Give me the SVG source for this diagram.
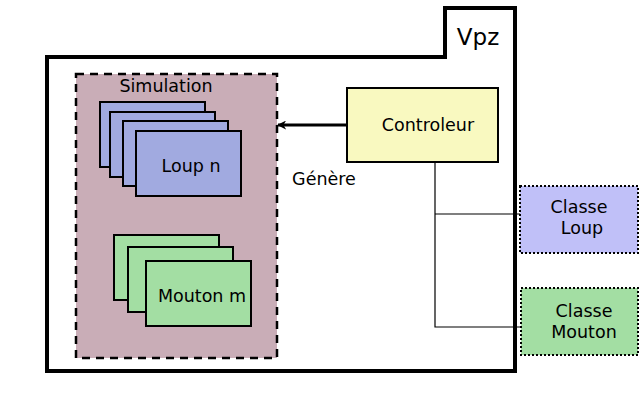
<svg xmlns="http://www.w3.org/2000/svg" width="640" height="400" viewBox="0 0 640 400">
<defs>
<style>
text{font-family:"DejaVu Sans",sans-serif;font-size:17.5px;fill:#000;text-anchor:middle}
.loup{fill:#a1aae0;stroke:#000;stroke-width:2}
.mouton{fill:#a3dea3;stroke:#000;stroke-width:2}
.classe{stroke:#000;stroke-width:2;stroke-dasharray:2,2}
.conn{fill:none;stroke:#000;stroke-width:1.2}
</style>
<marker id="arr" viewBox="0 0 10 10" refX="9" refY="5" markerWidth="3" markerHeight="3" orient="auto" markerUnits="strokeWidth">
<path d="M0,0 L10,5 L0,10 L3,5 Z" fill="#000"/>
</marker>
</defs>
<rect width="640" height="400" fill="#fff"/>
<g id="vpz">
<path d="M47,57 H445 V8 H515 V371 H47 Z" fill="#fff" stroke="#000" stroke-width="4"/>
<text x="478" y="45" style="font-size:23px">Vpz</text>
</g>
<g id="simulation">
<rect x="76" y="74" width="201" height="284" fill="#c9adb7" stroke="#000" stroke-width="2.5" stroke-dasharray="8,6"/>
<text x="166" y="92">Simulation</text>
</g>
<g id="loups">
<rect class="loup" x="100" y="102" width="105" height="65"/>
<rect class="loup" x="110" y="112" width="105" height="65"/>
<rect class="loup" x="123" y="121" width="105" height="65"/>
<rect class="loup" x="136" y="131" width="105" height="65"/>
<text x="191" y="172">Loup n</text>
</g>
<g id="moutons">
<rect class="mouton" x="114" y="235" width="105" height="65"/>
<rect class="mouton" x="128" y="247" width="105" height="65"/>
<rect class="mouton" x="146" y="261" width="105" height="65"/>
<text x="202" y="302">Mouton m</text>
</g>
<g id="controleur">
<rect x="347" y="88" width="151" height="74" fill="#f9f9c0" stroke="#000" stroke-width="2"/>
<text x="428" y="131">Controleur</text>
</g>
<g id="classe-loup">
<rect class="classe" x="520" y="186" width="118" height="67" fill="#c0c0f8"/>
<text x="579" y="213">Classe</text>
<text x="582" y="234">Loup</text>
</g>
<g id="classe-mouton">
<rect class="classe" x="521" y="288" width="117" height="67" fill="#a3dea3"/>
<text x="584" y="317">Classe</text>
<text x="584" y="338">Mouton</text>
</g>
<g id="connectors">
<line x1="347" y1="125" x2="278" y2="125" stroke="#000" stroke-width="3" marker-end="url(#arr)"/>
<text x="324" y="185">Génère</text>
<path class="conn" d="M435,162 V327 H520 M435,214 H520"/>
</g>
</svg>
